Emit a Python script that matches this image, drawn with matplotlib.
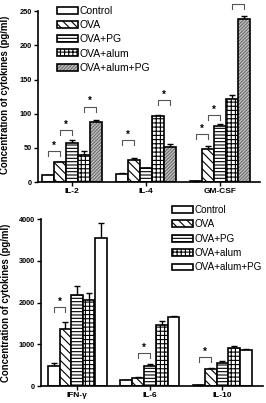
import matplotlib
matplotlib.use('Agg')
from matplotlib import pyplot as plt
import numpy as np

plt.rcParams['font.family'] = ['Liberation Sans', 'DejaVu Sans']
plt.rcParams['hatch.linewidth'] = 0.8

groups = ['Control', 'OVA', 'OVA+PG', 'OVA+alum', 'OVA+alum+PG']

# top panel: IL-2, IL-4, GM-CSF
top_cytokines = ['IL-2', 'IL-4', 'GM-CSF']
top_means = [
    [10, 12, 1.5],     # Control
    [29, 32, 49],      # OVA
    [58, 20, 82],      # OVA+PG
    [40, 97, 121],     # OVA+alum
    [88, 52, 238],     # OVA+alum+PG
]
top_errs = [
    [1, 1.5, 0.5],
    [1, 3.5, 4.5],
    [4, 1, 3],
    [5, 1, 7],
    [3, 4, 5],
]
# (cytokine, group a, group b, bracket height)
top_sig = [
    (0, 0, 1, 45), (0, 1, 2, 76), (0, 3, 4, 110),
    (1, 0, 1, 61), (1, 3, 4, 120),
    (2, 0, 1, 70), (2, 1, 2, 98), (2, 3, 4, 260),
]

# bottom panel: IFN-g, IL-6, IL-10
bottom_cytokines = ['IFN-γ', 'IL-6', 'IL-10']
bottom_means = [
    [490, 136, 30],
    [1360, 200, 400],
    [2180, 480, 550],
    [2060, 1460, 920],
    [3540, 1660, 860],
]
bottom_errs = [
    [70, 10, 5],
    [180, 10, 40],
    [220, 40, 40],
    [160, 100, 40],
    [380, 10, 20],
]
bottom_sig = [(0, 0, 1, 1890), (1, 1, 2, 790), (2, 0, 1, 695)]

width = 0.163


def draw_panel(ax, cytokines, means, errs, sig, hatches, last_style, ylim, yticks, drop):
    x = np.arange(len(cytokines))
    handles = []
    for i, (m, e) in enumerate(zip(means, errs)):
        pos = x + (i - 2) * width
        ax.errorbar(pos, m, yerr=[np.zeros(len(e)), e], fmt='none', ecolor='k',
                    elinewidth=1.0, capsize=2.2, capthick=1.0, zorder=1)
        if i == 4 and last_style == 'gray':
            under = ax.bar(pos, m, width, color='#c4c4c4', edgecolor='#6a6a6a',
                           hatch='//////////', linewidth=0, zorder=2)
            outline = ax.bar(pos, m, width, facecolor='none', edgecolor='k',
                             linewidth=1.2, zorder=3)
            handles.append((under, outline))
        else:
            b = ax.bar(pos, m, width, facecolor='white', edgecolor='k',
                       hatch=hatches[i], linewidth=1.2, zorder=2)
            handles.append(b)
    for c, a, b, h in sig:
        xa = x[c] + (a - 2) * width
        xb = x[c] + (b - 2) * width
        ax.plot([xa, xa, xb, xb], [h - drop, h, h, h - drop], color='#555555',
                lw=0.8, clip_on=False, zorder=4)
        ax.annotate('*', xy=((xa + xb) / 2, h), xytext=(0, 0.5),
                    textcoords='offset points', ha='center', va='bottom',
                    fontsize=7, fontweight='bold', annotation_clip=False)
    ax.set_xticks(x)
    ax.set_xticklabels(cytokines, fontsize=6, fontweight='bold')
    ax.set_ylim(*ylim)
    ax.set_yticks(yticks)
    ax.set_yticklabels([str(t) for t in yticks], fontsize=5.3, fontweight='bold')
    ax.set_ylabel('Concentration of cytokines (pg/ml)', fontsize=6.9, fontweight='bold')
    for s in ['top', 'right']:
        ax.spines[s].set_visible(False)
    for s in ['left', 'bottom']:
        ax.spines[s].set_linewidth(1.2)
    ax.tick_params(direction='out', length=3, width=1, pad=1.5)
    return handles


hatches = ['', '\\\\\\\\', '-----', '++++', '']

fig = plt.figure(figsize=(2.66, 4.03), dpi=100)

ax1 = fig.add_axes([0.143, 0.548, 0.835, 0.424])
h1 = draw_panel(ax1, top_cytokines, top_means, top_errs, top_sig, hatches, 'gray',
                (0, 250), [0, 50, 100, 150, 200, 250], 7)
ax1.set_xlim(-0.46, 2.54)
ax1.yaxis.set_label_coords(-0.125, 0.51)
fig.legend(h1, groups, loc='upper left', bbox_to_anchor=(0.214, 0.985),
           frameon=False, fontsize=7.5, borderpad=0, borderaxespad=0,
           handlelength=2.0, handleheight=0.65, handletextpad=0.2, labelspacing=0.4)

ax2 = fig.add_axes([0.154, 0.042, 0.835, 0.414])
h2 = draw_panel(ax2, bottom_cytokines, bottom_means, bottom_errs, bottom_sig, hatches, 'white',
                (0, 4000), [0, 1000, 2000, 3000, 4000], 120)
ax2.set_xlim(-0.5, 2.56)
ax2.yaxis.set_label_coords(-0.135, 0.5)
fig.legend(h2, groups, loc='upper left', bbox_to_anchor=(0.647, 0.492),
           frameon=False, fontsize=7.1, borderpad=0, borderaxespad=0,
           handlelength=2.1, handleheight=0.7, handletextpad=0.2, labelspacing=0.45)

fig.savefig('out.png', dpi=100)
